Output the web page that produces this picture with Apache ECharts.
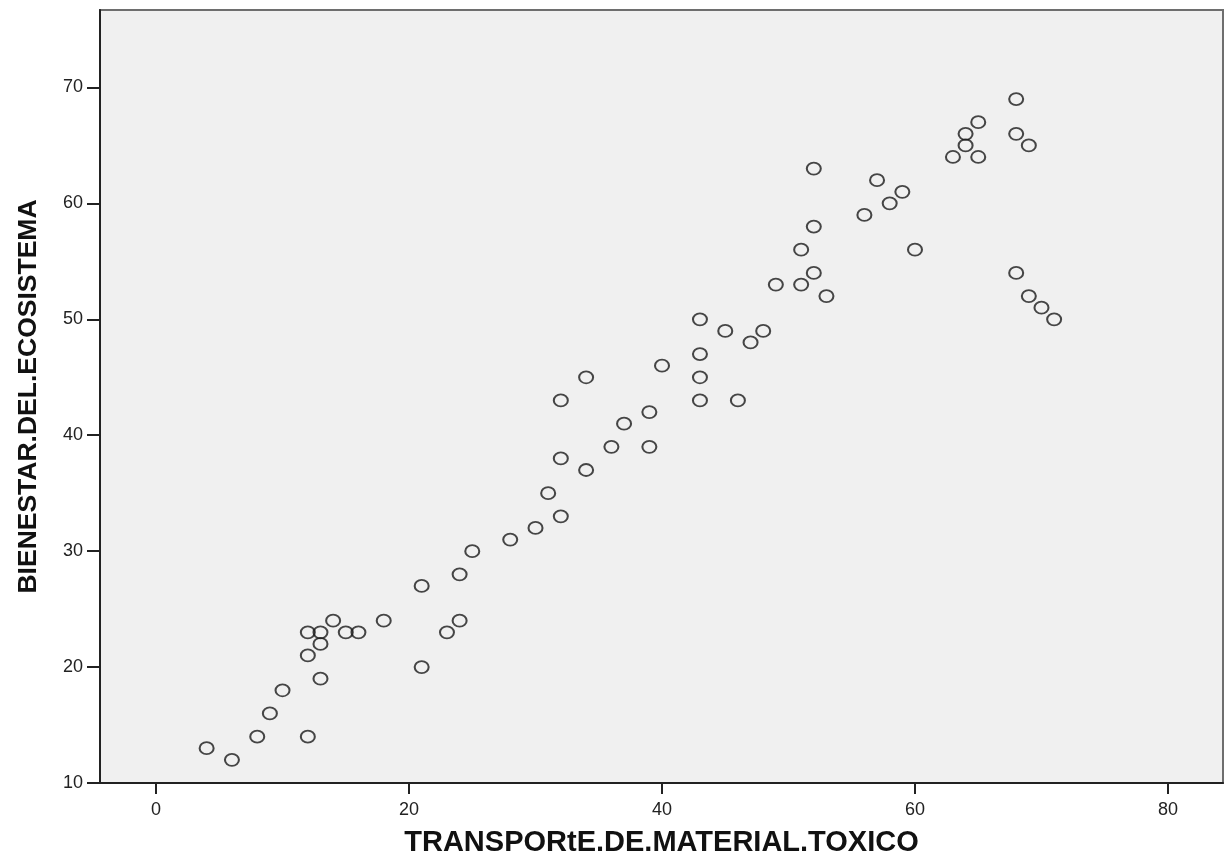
<!DOCTYPE html>
<html>
<head>
<meta charset="utf-8">
<script src="https://cdn.jsdelivr.net/npm/echarts@6/dist/echarts.min.js"></script>
<style>
html,body{margin:0;padding:0;background:#fff;}
#chart{width:1227px;height:863px;}
</style>
</head>
<body>
<div id="chart"></div>
<script>
var xTitle = 'TRANSPORtE.DE.MATERIAL.TOXICO';
var yTitle = 'BIENESTAR.DEL.ECOSISTEMA';
var xTicks = [0, 20, 40, 60, 80];
var yTicks = [10, 20, 30, 40, 50, 60, 70];
var transporte = [4, 6, 8, 9, 10, 12, 12, 12, 13, 13, 13, 14, 15, 16, 18, 21, 21, 23, 24, 24, 25, 28, 30, 31, 32, 32, 32, 34, 34, 36, 37, 39, 39, 40, 43, 43, 43, 43, 45, 46, 47, 48, 49, 51, 51, 52, 52, 52, 53, 56, 57, 58, 59, 60, 63, 64, 64, 65, 65, 68, 68, 69, 68, 69, 70, 71];
var bienestar  = [13, 12, 14, 16, 18, 14, 21, 23, 23, 22, 19, 24, 23, 23, 24, 27, 20, 23, 24, 28, 30, 31, 32, 35, 33, 38, 43, 45, 37, 39, 41, 42, 39, 46, 50, 47, 45, 43, 49, 43, 48, 49, 53, 56, 53, 63, 58, 54, 52, 59, 62, 60, 61, 56, 64, 66, 65, 67, 64, 69, 66, 65, 54, 52, 51, 50];

var points = transporte.map(function (x, i) { return [x, bienestar[i]]; });

var chart = echarts.init(document.getElementById('chart'), null, {renderer: 'canvas'});
var font = "'Liberation Sans', Arial, sans-serif";
chart.setOption({
  animation: false,
  backgroundColor: '#ffffff',
  grid: {
    left: 100, top: 10, right: 4, bottom: 80,
    outerBoundsMode: 'none',
    containLabel: false,
    show: true,
    backgroundColor: '#F0F0F0',
    borderColor: '#6e6e6e',
    borderWidth: 2
  },
  xAxis: {
    type: 'value',
    min: -4.43,
    max: 84.35,
    name: xTitle,
    nameLocation: 'middle',
    nameGap: 45,
    nameTextStyle: {fontFamily: font, fontWeight: 'bold', fontSize: 29, color: '#111'},
    axisLine: {show: true, onZero: false, lineStyle: {color: '#222', width: 2}},
    axisTick: {show: true, length: 11, customValues: xTicks, lineStyle: {color: '#222', width: 2}},
    axisLabel: {customValues: xTicks, margin: 18, fontFamily: font, fontSize: 18, color: '#222'},
    splitLine: {show: false}
  },
  yAxis: {
    type: 'value',
    min: 10,
    max: 76.68,
    name: yTitle,
    nameLocation: 'middle',
    nameGap: 58,
    nameRotate: 90,
    nameTextStyle: {fontFamily: font, fontWeight: 'bold', fontSize: 26.5, color: '#111'},
    axisLine: {show: true, onZero: false, lineStyle: {color: '#222', width: 2}},
    axisTick: {show: true, length: 13, customValues: yTicks, lineStyle: {color: '#222', width: 2}},
    axisLabel: {customValues: yTicks, margin: 17, fontFamily: font, fontSize: 18, color: '#222'},
    splitLine: {show: false}
  },
  series: [{
    type: 'scatter',
    data: points,
    symbol: 'circle',
    symbolSize: [14, 12],
    itemStyle: {color: 'rgba(0,0,0,0)', borderColor: '#1a1a1a', borderWidth: 1.9},
    emphasis: {disabled: true}
  }]
});
</script>
</body>
</html>
